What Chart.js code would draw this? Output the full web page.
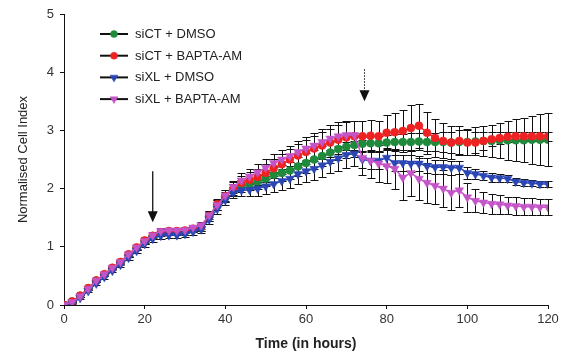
<!DOCTYPE html>
<html>
<head>
<meta charset="utf-8">
<script src="https://cdn.jsdelivr.net/npm/chart.js@4.4.0/dist/chart.umd.min.js"></script>
<style>
  html, body { margin: 0; padding: 0; background: #fff; }
  #wrap { width: 575px; height: 356px; }
</style>
</head>
<body>
<div id="wrap"><canvas id="chart" width="575" height="356"></canvas></div>
<script>
// --- DATA ---
const hours = [0, 2, 4, 6, 8, 10, 12, 14, 16, 18, 20, 22, 24, 26, 28, 30, 32, 34, 36, 38, 40,
  42, 44, 46, 48, 50, 52, 54, 56, 58, 60, 62, 64, 66, 68, 70, 72, 74, 76, 78, 80,
  82, 84, 86, 88, 90, 92, 94, 96, 98, 100, 102, 104, 106, 108, 110, 112, 114, 116, 118, 120];

const seriesNames = ['siCT + DMSO', 'siCT + BAPTA-AM', 'siXL + DMSO', 'siXL + BAPTA-AM'];

const siCtDmso = [0, 0.06, 0.16, 0.28, 0.42, 0.52, 0.63, 0.73, 0.86, 0.98, 1.1, 1.18, 1.24, 1.25, 1.25, 1.26, 1.3, 1.33, 1.52, 1.72, 1.86,
  1.98, 2.04, 2.08, 2.12, 2.17, 2.24, 2.27, 2.31, 2.38, 2.44, 2.5, 2.56, 2.62, 2.68, 2.72, 2.75, 2.77, 2.78, 2.78, 2.79,
  2.8, 2.8, 2.8, 2.81, 2.8, 2.8, 2.8, 2.79, 2.8, 2.8, 2.81, 2.82, 2.82, 2.83, 2.83, 2.83, 2.83, 2.84, 2.84, 2.84];
const siCtBapta = [0, 0.06, 0.16, 0.29, 0.42, 0.53, 0.64, 0.74, 0.87, 0.99, 1.11, 1.19, 1.25, 1.27, 1.27, 1.28, 1.31, 1.34, 1.53, 1.73, 1.87,
  2.0, 2.1, 2.15, 2.2, 2.27, 2.35, 2.42, 2.5, 2.57, 2.63, 2.69, 2.74, 2.79, 2.84, 2.88, 2.9, 2.9, 2.91, 2.9, 2.96,
  2.97, 2.99, 3.04, 3.08, 2.96, 2.87, 2.82, 2.79, 2.82, 2.79, 2.79, 2.82, 2.85, 2.87, 2.89, 2.9, 2.9, 2.9, 2.9, 2.9];
const siXlDmso = [0, 0.03, 0.12, 0.24, 0.37, 0.48, 0.59, 0.69, 0.81, 0.93, 1.05, 1.14, 1.19, 1.2, 1.2, 1.22, 1.26, 1.3, 1.47, 1.65, 1.8,
  1.93, 1.97, 1.98, 2.0, 2.04, 2.08, 2.13, 2.17, 2.25, 2.3, 2.34, 2.4, 2.46, 2.52, 2.58, 2.6, 2.5, 2.48, 2.48, 2.53,
  2.44, 2.44, 2.43, 2.43, 2.39, 2.37, 2.37, 2.36, 2.36, 2.27, 2.25, 2.22, 2.19, 2.18, 2.17, 2.12, 2.1, 2.09, 2.08, 2.08];
const siXlBapta = [0, 0.05, 0.15, 0.28, 0.42, 0.53, 0.64, 0.74, 0.87, 0.99, 1.1, 1.2, 1.27, 1.28, 1.28, 1.29, 1.33, 1.37, 1.54, 1.72, 1.88,
  2.03, 2.14, 2.21, 2.28, 2.36, 2.44, 2.5, 2.56, 2.63, 2.69, 2.74, 2.8, 2.86, 2.9, 2.92, 2.92, 2.53, 2.48, 2.43, 2.39,
  2.34, 2.19, 2.27, 2.17, 2.1, 2.05, 2.0, 1.93, 1.97, 1.85, 1.79, 1.76, 1.74, 1.73, 1.71, 1.7, 1.69, 1.69, 1.68, 1.68];

// standard deviations (error bars)
const sdCtDmso = [0, 0.01, 0.02, 0.02, 0.03, 0.03, 0.03, 0.04, 0.04, 0.04, 0.05, 0.05, 0.05, 0.05, 0.05, 0.05, 0.05, 0.06, 0.07, 0.08, 0.09,
  0.1, 0.1, 0.11, 0.12, 0.12, 0.13, 0.14, 0.15, 0.16, 0.17, 0.17, 0.18, 0.18, 0.19, 0.2, 0.2, 0.12, 0.12, 0.13, 0.13,
  0.14, 0.14, 0.15, 0.15, 0.16, 0.16, 0.17, 0.18, 0.2, 0.22, 0.24, 0.26, 0.28, 0.3, 0.33, 0.36, 0.38, 0.41, 0.44, 0.46];
const sdCtBapta = [0, 0.01, 0.02, 0.02, 0.03, 0.03, 0.03, 0.04, 0.04, 0.04, 0.05, 0.05, 0.05, 0.05, 0.05, 0.05, 0.05, 0.06, 0.08, 0.09, 0.1,
  0.11, 0.12, 0.13, 0.14, 0.15, 0.16, 0.17, 0.18, 0.2, 0.21, 0.22, 0.23, 0.24, 0.25, 0.26, 0.26, 0.27, 0.27, 0.27, 0.3,
  0.33, 0.36, 0.4, 0.38, 0.36, 0.32, 0.3, 0.28, 0.25, 0.22, 0.18, 0.15, 0.12, 0.1, 0.09, 0.08, 0.08, 0.08, 0.08, 0.08];
const sdXlDmso = [0, 0.01, 0.02, 0.02, 0.03, 0.03, 0.03, 0.04, 0.04, 0.04, 0.05, 0.05, 0.05, 0.05, 0.05, 0.05, 0.05, 0.06, 0.07, 0.08, 0.09,
  0.1, 0.1, 0.11, 0.12, 0.13, 0.14, 0.15, 0.16, 0.17, 0.18, 0.19, 0.2, 0.2, 0.21, 0.22, 0.22, 0.15, 0.15, 0.15, 0.15,
  0.14, 0.14, 0.14, 0.13, 0.13, 0.12, 0.12, 0.12, 0.11, 0.1, 0.09, 0.08, 0.07, 0.07, 0.06, 0.06, 0.06, 0.05, 0.05, 0.05];
const sdXlBapta = [0, 0.01, 0.02, 0.02, 0.03, 0.03, 0.03, 0.04, 0.04, 0.04, 0.05, 0.05, 0.05, 0.05, 0.05, 0.05, 0.05, 0.06, 0.07, 0.08, 0.09,
  0.1, 0.12, 0.13, 0.14, 0.15, 0.16, 0.17, 0.18, 0.19, 0.2, 0.21, 0.22, 0.23, 0.24, 0.25, 0.25, 0.3, 0.3, 0.32, 0.3,
  0.34, 0.38, 0.4, 0.36, 0.34, 0.32, 0.32, 0.3, 0.28, 0.25, 0.2, 0.18, 0.17, 0.16, 0.15, 0.15, 0.14, 0.14, 0.14, 0.14];

const xTicks = [0, 20, 40, 60, 80, 100, 120];
const yTicks = [0, 1, 2, 3, 4, 5];

// treatment arrows: [hour, from value, to value]
const treatmentArrow = [22, 2.3, 1.42];
const releaseArrow = [74.5, 4.05, 3.5];

// --- STYLE ---
const colors = ['#1f8a3c', '#ee2222', '#2a46b4', '#c455c8'];
const shapes = ['circle', 'circle', 'triangle', 'triangle'];
const rotations = [0, 0, 180, 180];
const radii = [4, 4, 5, 5];
const FONT = 'Arial, "Liberation Sans", sans-serif';

function toPoints(vals) {
  return vals.map((v, i) => ({ x: hours[i], y: v }));
}

const allValues = [siCtDmso, siCtBapta, siXlDmso, siXlBapta];
const allErrors = [sdCtDmso, sdCtBapta, sdXlDmso, sdXlBapta];

const datasets = allValues.map((vals, i) => ({
  label: seriesNames[i],
  data: toPoints(vals),
  errors: allErrors[i],
  order: allValues.length - 1 - i, // later series drawn on top
  borderColor: colors[i],
  backgroundColor: colors[i],
  borderWidth: 1.5,
  pointStyle: shapes[i],
  pointRotation: rotations[i],
  pointRadius: radii[i],
  pointBorderWidth: 0.5,
  pointBorderColor: colors[i],
  tension: 0,
  fill: false,
}));

// --- PLUGINS ---
const errorBars = {
  id: 'errorBars',
  beforeDatasetsDraw(chart) {
    const { ctx, scales } = chart;
    ctx.save();
    ctx.strokeStyle = '#111';
    ctx.lineWidth = 1;
    chart.data.datasets.forEach((ds, i) => {
      const meta = chart.getDatasetMeta(i);
      meta.data.forEach((pt, j) => {
        const e = ds.errors[j];
        if (!e) return;
        const v = ds.data[j].y;
        const top = Math.round(scales.y.getPixelForValue(v + e)) + 0.5;
        const bot = Math.round(scales.y.getPixelForValue(v - e)) + 0.5;
        const x = Math.round(pt.x) + 0.5;
        ctx.beginPath();
        ctx.moveTo(x, top); ctx.lineTo(x, bot);
        ctx.moveTo(x - 4, top); ctx.lineTo(x + 4, top);
        ctx.moveTo(x - 4, bot); ctx.lineTo(x + 4, bot);
        ctx.stroke();
      });
    });
    ctx.restore();
  }
};

function drawArrow(chart, a, dashed) {
  const { ctx, scales } = chart;
  const x = scales.x.getPixelForValue(a[0]);
  const y0 = scales.y.getPixelForValue(a[1]);
  const y1 = scales.y.getPixelForValue(a[2]);
  ctx.save();
  ctx.strokeStyle = '#111';
  ctx.fillStyle = '#111';
  ctx.lineWidth = dashed ? 1 : 1.3;
  if (dashed) ctx.setLineDash([1.5, 1.5]);
  ctx.beginPath();
  ctx.moveTo(x, y0);
  ctx.lineTo(x, y1 - 9);
  ctx.stroke();
  ctx.setLineDash([]);
  ctx.beginPath();
  ctx.moveTo(x - 5, y1 - 11);
  ctx.lineTo(x + 5, y1 - 11);
  ctx.lineTo(x, y1);
  ctx.closePath();
  ctx.fill();
  ctx.restore();
}

const annotations = {
  id: 'annotations',
  afterDraw(chart) {
    const ctx = chart.ctx;
    drawArrow(chart, treatmentArrow, false);
    drawArrow(chart, releaseArrow, true);

    // legend box, top left of plot
    ctx.save();
    ctx.font = '13px ' + FONT;
    ctx.textBaseline = 'middle';
    chart.data.datasets.forEach((ds, i) => {
      const y = 34 + i * 21.7;
      ctx.strokeStyle = '#111';
      ctx.lineWidth = 2;
      ctx.beginPath();
      ctx.moveTo(100, y); ctx.lineTo(128, y);
      ctx.stroke();
      ctx.fillStyle = colors[i];
      ctx.strokeStyle = colors[i];
      ctx.lineWidth = 0.5;
      Chart.helpers.drawPoint(ctx, {
        pointStyle: shapes[i], rotation: rotations[i], radius: radii[i] - 0.5, borderWidth: 0.5
      }, 114, y);
      ctx.fillStyle = '#222';
      ctx.fillText(ds.label, 135, y + 0.5);
    });
    ctx.restore();
  }
};

// --- CHART ---
new Chart(document.getElementById('chart'), {
  type: 'line',
  data: { datasets },
  options: {
    responsive: false,
    animation: false,
    devicePixelRatio: 1,
    layout: { padding: { left: 0, right: 27, top: 14, bottom: 3 } },
    plugins: { legend: { display: false }, tooltip: { enabled: false } },
    scales: {
      x: {
        type: 'linear',
        min: 0,
        max: 120,
        afterFit(s) { s.height = 48; },
        afterBuildTicks(s) { s.ticks = xTicks.map(v => ({ value: v })); },
        grid: { display: true, drawOnChartArea: false, drawTicks: true, tickLength: 4, color: '#111' },
        border: { display: true, color: '#111', width: 1 },
        ticks: { color: '#333', padding: 3, font: { family: FONT, size: 13 }, maxRotation: 0 },
        title: {
          display: true,
          text: 'Time (in hours)',
          color: '#222',
          font: { family: FONT, size: 14, weight: 'bold' },
          padding: { top: 0, bottom: 0 }
        }
      },
      y: {
        min: 0,
        max: 5,
        afterFit(s) { s.width = 64; },
        afterBuildTicks(s) { s.ticks = yTicks.map(v => ({ value: v })); },
        grid: { display: true, drawOnChartArea: false, drawTicks: true, tickLength: 4, color: '#111' },
        border: { display: true, color: '#111', width: 1 },
        ticks: { color: '#333', padding: 6, font: { family: FONT, size: 13 } },
        title: {
          display: true,
          text: 'Normalised Cell Index',
          color: '#222',
          font: { family: FONT, size: 13 },
          padding: { top: 16, bottom: 0 }
        }
      }
    }
  },
  plugins: [errorBars, annotations]
});
</script>
</body>
</html>
